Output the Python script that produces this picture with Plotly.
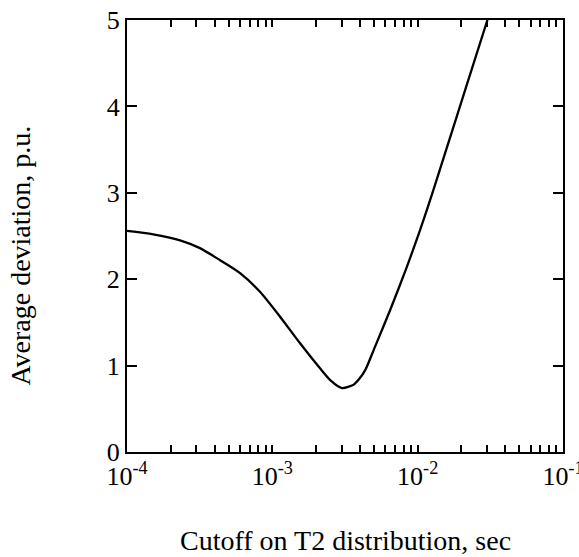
import plotly.graph_objects as go

# Data
cutoff_sec = [1.0e-4, 1.514e-4, 2.317e-4, 3.177e-4, 4.365e-4, 5.998e-4, 8.222e-4,
              1.130e-3, 1.552e-3, 2.128e-3, 2.512e-3, 3.020e-3, 3.631e-3, 3.981e-3,
              4.365e-3, 5.093e-3, 6.457e-3, 8.414e-3, 1.040e-2, 1.282e-2, 1.545e-2,
              2.188e-2, 3.020e-2]
avg_deviation = [2.56, 2.52, 2.45, 2.36, 2.22, 2.07, 1.855,
                 1.566, 1.258, 0.969, 0.83, 0.74, 0.78, 0.85,
                 0.95, 1.22, 1.64, 2.14, 2.57, 3.03, 3.46,
                 4.26, 5.0]

decades = [1e-4, 1e-3, 1e-2, 1e-1]
decade_labels = ["10<sup>-4</sup>", "10<sup>-3</sup>", "10<sup>-2</sup>", "10<sup>-1</sup>"]
y_ticks = [0, 1, 2, 3, 4, 5]

x_tickvals, x_ticktext = [], []
for i, d in enumerate(decades):
    x_tickvals.append(d)
    x_ticktext.append(decade_labels[i])
    if i < len(decades) - 1:
        for m in range(2, 10):
            x_tickvals.append(d * m)
            x_ticktext.append("")

FONT = "Liberation Serif"

fig = go.Figure()
fig.add_trace(go.Scatter(
    x=cutoff_sec, y=avg_deviation, mode="lines",
    line=dict(color="black", width=2.3, shape="spline", smoothing=0.7),
    showlegend=False, hoverinfo="skip", cliponaxis=True,
))

fig.update_layout(
    width=579, height=557,
    margin=dict(l=127, r=16, t=20, b=105, autoexpand=False),
    paper_bgcolor="white", plot_bgcolor="white",
    font=dict(family=FONT, color="black", size=26),
    xaxis=dict(
        type="log", range=[-4.00001, -0.99999], automargin=False,
        tickvals=x_tickvals, ticktext=x_ticktext,
        ticks="inside", ticklen=7, tickwidth=1.5, tickcolor="black",
        showline=True, linecolor="black", linewidth=2, mirror="allticks",
        showgrid=False, zeroline=False, ticklabeloverflow="allow",
        tickfont=dict(family=FONT, size=26),
    ),
    yaxis=dict(
        range=[0, 5], tickvals=y_ticks, automargin=False,
        ticks="inside", ticklen=10, tickwidth=1.5, tickcolor="black",
        showline=True, linecolor="black", linewidth=2, mirror="allticks",
        showgrid=False, zeroline=False,
        tickfont=dict(family=FONT, size=26),
    ),
    annotations=[
        dict(text="Cutoff on T2 distribution, sec", xref="paper", yref="paper",
             x=0.5, y=-0.205, xanchor="center", yanchor="middle", showarrow=False,
             font=dict(family=FONT, size=28)),
        dict(text="Average deviation, p.u.", xref="paper", yref="paper",
             x=-0.245, y=0.455, xanchor="center", yanchor="middle", textangle=-90,
             showarrow=False, font=dict(family=FONT, size=28)),
    ],
)

fig.write_html("out.html")
